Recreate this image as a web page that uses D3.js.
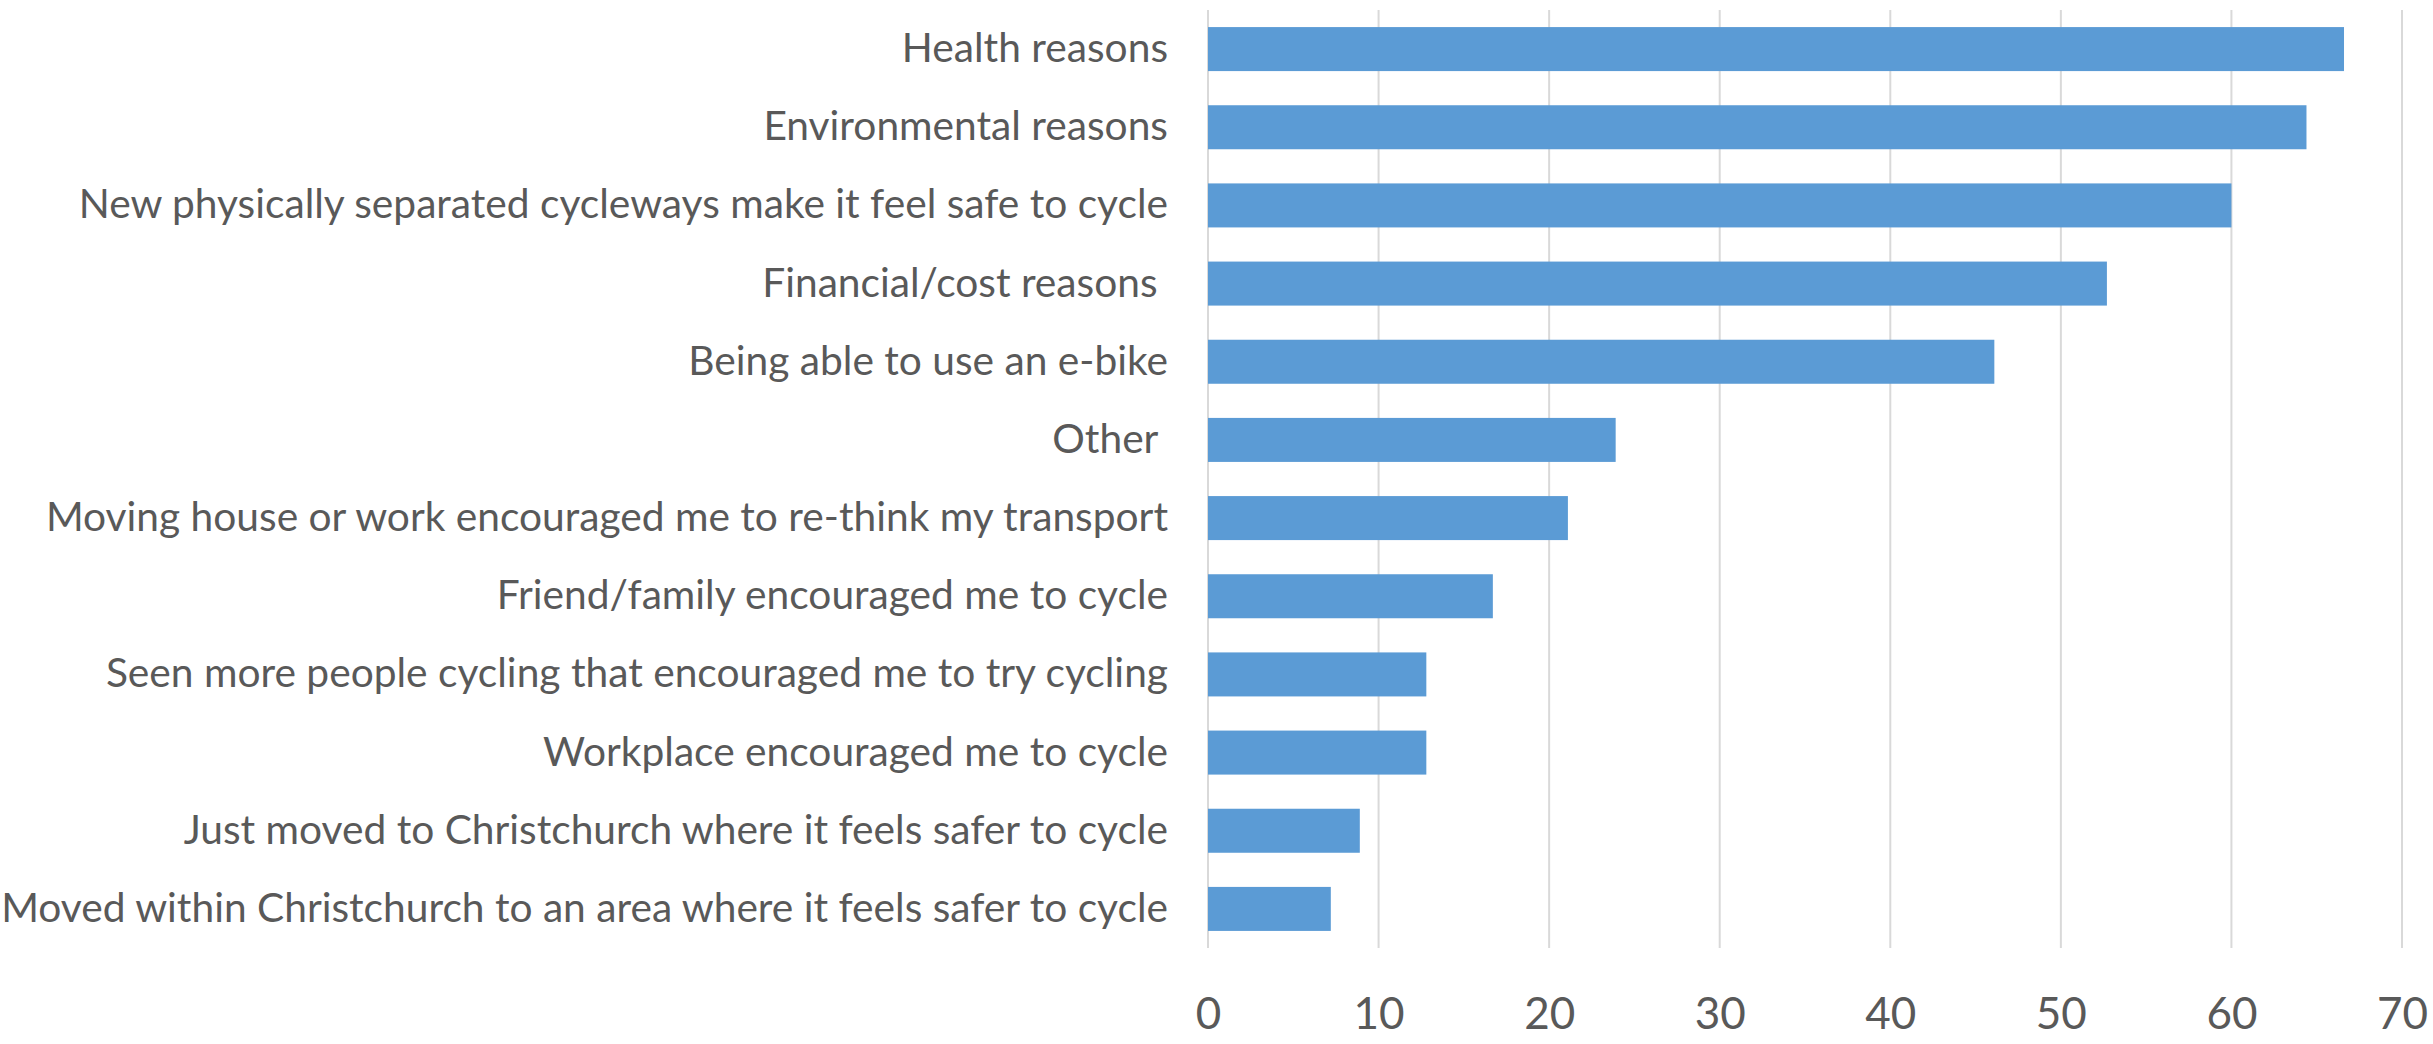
<!DOCTYPE html>
<html>
<head>
<meta charset="utf-8">
<script src="https://cdn.jsdelivr.net/npm/d3@7"></script>
<style>
body{margin:0;background:#fff;}
text{font-family:Lato,"Open Sans",sans-serif;}
</style>
</head>
<body>
<svg></svg>
<script>
// reasons for starting to cycle, % of respondents
var categories = [
    "Health reasons",
    "Environmental reasons",
    "New physically separated cycleways make it feel safe to cycle",
    "Financial/cost reasons ",
    "Being able to use an e-bike",
    "Other ",
    "Moving house or work encouraged me to re-think my transport",
    "Friend/family encouraged me to cycle",
    "Seen more people cycling that encouraged me to try cycling",
    "Workplace encouraged me to cycle",
    "Just moved to Christchurch where it feels safer to cycle",
    "Moved within Christchurch to an area where it feels safer to cycle"
]
var values = [66.6, 64.4, 60.0, 52.7, 46.1, 23.9, 21.1, 16.7, 12.8, 12.8, 8.9, 7.2]
var xTicks = [0, 10, 20, 30, 40, 50, 60, 70]

var screen = {width: 2433, height: 1044};
var plot = {left: 1208, right: 2402, top: 10, bottom: 948};

var svg = d3.select("svg")
    .attr("width", screen.width)
    .attr("height", screen.height)

var xScale = d3.scaleLinear()
    .domain([0, 70])
    .range([plot.left, plot.right])

var yScale = d3.scaleBand()
    .domain(categories)
    .range([plot.top, plot.bottom])
    .paddingInner(0.437)
    .paddingOuter(0.2185)

// gridlines
svg.append("g")
    .attr("id", "grid")
    .selectAll("line")
    .data(xTicks)
    .enter()
    .append("line")
    .attr("x1", function(d){return xScale(d)})
    .attr("x2", function(d){return xScale(d)})
    .attr("y1", plot.top)
    .attr("y2", plot.bottom)
    .attr("stroke", "#d9d9d9")
    .attr("stroke-width", 2)

// bars
svg.append("g")
    .attr("id", "bars")
    .selectAll("rect")
    .data(values)
    .enter()
    .append("rect")
    .attr("x", xScale(0))
    .attr("y", function(d, i){return yScale(categories[i])})
    .attr("width", function(d){return xScale(d) - xScale(0)})
    .attr("height", yScale.bandwidth())
    .attr("fill", "#5b9bd5")

// category labels
var yAxis = d3.axisLeft(yScale).tickSize(0).tickPadding(0)
svg.append("g")
    .attr("id", "yAxis")
    .attr("transform", "translate(1168,0)")
    .call(yAxis)
    .call(function(g){g.select(".domain").remove()})
    .selectAll("text")
    .attr("font-family", "Lato, 'Open Sans', sans-serif")
    .attr("font-size", 40.7)
    .attr("fill", "#595959")
    .style("white-space", "pre")

// x axis labels
var xAxis = d3.axisBottom(xScale).tickValues(xTicks).tickSize(0).tickPadding(0)
svg.append("g")
    .attr("id", "xAxis")
    .attr("transform", "translate(0,998)")
    .call(xAxis)
    .call(function(g){g.select(".domain").remove()})
    .selectAll("text")
    .attr("font-family", "Lato, 'Open Sans', sans-serif")
    .attr("font-size", 44)
    .attr("fill", "#595959")
</script>
</body>
</html>
